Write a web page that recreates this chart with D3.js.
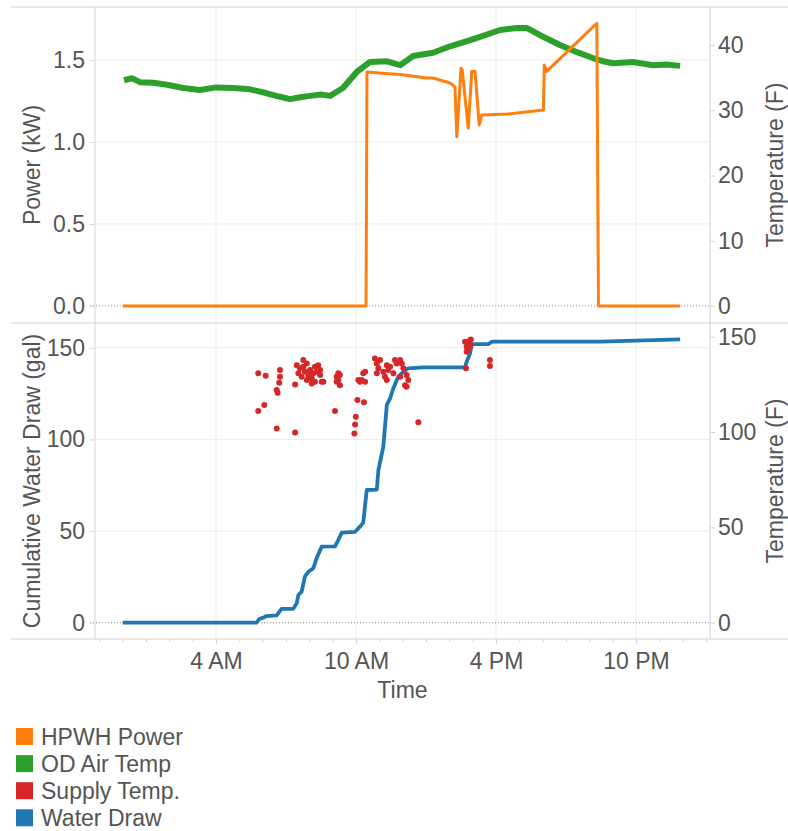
<!DOCTYPE html>
<html>
<head>
<meta charset="utf-8">
<script src="https://cdn.jsdelivr.net/npm/d3@7"></script>
<style>
    body { margin: 0; background: #fff; }
    text { font-family: "Liberation Sans", Arial, sans-serif; fill: #555; }
</style>
</head>
<body>
<script>
// time of day in hours, then value

// HPWH power (kW)
const hpwhPower = [
    [0, 0], [10.43, 0], [10.47, 1.427], [11.0, 1.42], [12.0, 1.41], [13.0, 1.39],
    [13.3, 1.39], [14.03, 1.36], [14.24, 1.335], [14.32, 1.032], [14.5, 1.45],
    [14.55, 1.44], [14.81, 1.085], [14.96, 1.43], [15.1, 1.43], [15.28, 1.104],
    [15.39, 1.165], [16.5, 1.17], [18.03, 1.195], [18.07, 1.47], [18.17, 1.43],
    [20.32, 1.724], [20.39, 0], [23.89, 0]
];

// outdoor air temperature (F)
const odAirTemp = [
    [0.06, 34.6], [0.4, 34.9], [0.74, 34.3], [1.3, 34.2], [1.9, 33.9], [2.6, 33.4],
    [3.31, 33.1], [4.0, 33.5], [4.73, 33.4], [5.46, 33.2], [6.18, 32.6], [6.7, 32.1],
    [7.17, 31.7], [7.6, 32.0], [8.03, 32.2], [8.5, 32.4], [8.89, 32.2], [9.44, 33.4],
    [10.04, 35.9], [10.6, 37.4], [11.33, 37.5], [11.89, 36.9], [12.44, 38.3],
    [13.3, 38.8], [14.03, 39.8], [14.76, 40.6], [15.44, 41.4], [16.17, 42.3],
    [16.9, 42.6], [17.33, 42.6], [17.89, 41.5], [18.74, 40.0], [19.47, 38.9],
    [20.15, 38.0], [20.6, 37.5], [21.01, 37.2], [21.87, 37.4], [22.73, 36.9],
    [23.3, 37.0], [23.89, 36.8]
];

// supply water temperature (F)
const supplyTemp = [
    [5.81, 130.8], [6.13, 129.5], [5.81, 111.0], [6.07, 114.2], [6.6, 101.9],
    [6.6, 122.0], [6.64, 120.6], [6.71, 125.9], [6.74, 129.0], [6.74, 132.5],
    [7.39, 99.8], [7.39, 125.0],
    [7.46, 135.1], [7.6, 133.4], [7.74, 137.8], [7.74, 134.2], [7.81, 131.6],
    [7.89, 136.0], [7.96, 129.9], [8.03, 132.5], [8.1, 128.2], [8.17, 130.8],
    [8.24, 134.2], [8.32, 131.6], [8.38, 135.1], [8.46, 129.9], [8.53, 126.4],
    [8.6, 126.4], [7.67, 129.0], [7.89, 127.3], [8.24, 126.4], [8.1, 125.5],
    [8.46, 132.5], [7.53, 130.8],
    [9.1, 111.0], [9.24, 130.8], [9.17, 129.0], [9.24, 127.3], [9.31, 124.6],
    [9.31, 129.9], [9.17, 126.4],
    [9.93, 99.3], [9.96, 104.0], [9.99, 108.0], [10.06, 116.8], [10.34, 115.6],
    [10.1, 127.3], [10.17, 126.4], [10.31, 130.8], [10.39, 131.6], [10.39, 126.4],
    [10.24, 127.3],
    [10.81, 138.6], [10.89, 136.0], [10.96, 133.4], [10.89, 130.8], [11.03, 137.8],
    [11.17, 131.6], [11.24, 129.0], [11.32, 127.3], [11.32, 135.1], [11.38, 132.5],
    [11.46, 134.2], [11.6, 130.8], [11.67, 137.8], [11.74, 136.0], [11.89, 137.8],
    [11.96, 136.0], [12.03, 133.4], [11.89, 129.0], [12.17, 129.9], [12.24, 127.3],
    [12.1, 124.6], [12.17, 123.8],
    [12.67, 105.1],
    [14.67, 147.3], [14.74, 144.7], [14.81, 146.5], [14.89, 148.2], [14.74, 142.1],
    [14.81, 143.0], [14.92, 148.6], [14.89, 145.6], [14.71, 133.4],
    [15.74, 137.8], [15.74, 134.6]
];

// cumulative water draw (gal)
const waterDraw = [
    [0, 0], [5.74, 0], [5.85, 2.0], [6.0, 2.6], [6.17, 3.6], [6.6, 4.0], [6.81, 7.5],
    [7.31, 7.6], [7.46, 10.6], [7.53, 15.1], [7.67, 16.9], [7.81, 25.1], [7.96, 27.8],
    [8.17, 29.7], [8.31, 35.1], [8.53, 41.5], [9.1, 41.6], [9.24, 45.1], [9.39, 49.1],
    [9.96, 49.6], [10.17, 52.4], [10.31, 54.6], [10.46, 72.4], [10.89, 72.6],
    [10.96, 83.3], [11.17, 96], [11.32, 118.8], [11.46, 122.4], [11.6, 127.9],
    [11.81, 134.2], [12.03, 136.9], [12.24, 138.8], [12.9, 139.3], [14.67, 139.3],
    [14.74, 142.4], [14.89, 147], [14.96, 151.5], [15.03, 152], [15.67, 152],
    [15.82, 153.3], [20.46, 153.3], [23.89, 154.6]
];

// ticks
const timeTicks = [4, 10, 16, 22];
const timeLabels = ['4 AM', '10 AM', '4 PM', '10 PM'];
const powerTicks = [0, 0.5, 1.0, 1.5];
const airTempTicks = [0, 10, 20, 30, 40];
const drawTicks = [0, 50, 100, 150];
const supplyTempTicks = [0, 50, 100, 150];

// legend
const legendNames = ['HPWH Power', 'OD Air Temp', 'Supply Temp.', 'Water Draw'];
const legendColors = ['#ff7f0e', '#2ca02c', '#d62728', '#1f77b4'];

const width = 788;
const height = 831;

const plotLeft = 95;
const plotRight = 710;
const topPanel = { y0: 7, y1: 323 };
const bottomPanel = { y0: 323, y1: 639 };
const lineColor = '#d4d4d4';
const gridColor = '#ececec';
const tickFont = 23;
const titleFont = 23;

const svg = d3.select('body')
    .append('svg')
    .attr('width', width)
    .attr('height', height);

// scales
const x = d3.scaleLinear()
    .domain([-1.186, 25.17])
    .range([plotLeft, plotRight]);

const yPower = d3.scaleLinear()
    .domain([-0.1037, 1.823])
    .range([topPanel.y1, topPanel.y0]);

const yAir = d3.scaleLinear()
    .domain([-2.6, 45.82])
    .range([topPanel.y1, topPanel.y0]);

const yDraw = d3.scaleLinear()
    .domain([-8.9, 163.5])
    .range([bottomPanel.y1, bottomPanel.y0]);

const ySupply = d3.scaleLinear()
    .domain([-8.55, 157.2])
    .range([bottomPanel.y1, bottomPanel.y0]);

// grid
const grid = svg.append('g');

grid.selectAll('.vgrid')
    .data(timeTicks)
    .enter()
    .append('line')
    .attr('x1', d => x(d))
    .attr('x2', d => x(d))
    .attr('y1', topPanel.y0)
    .attr('y2', bottomPanel.y1)
    .attr('stroke', gridColor);

grid.selectAll('.pgrid')
    .data(powerTicks.filter(d => d > 0))
    .enter()
    .append('line')
    .attr('x1', plotLeft)
    .attr('x2', plotRight)
    .attr('y1', d => yPower(d))
    .attr('y2', d => yPower(d))
    .attr('stroke', gridColor);

grid.selectAll('.dgrid')
    .data(drawTicks.filter(d => d > 0))
    .enter()
    .append('line')
    .attr('x1', plotLeft)
    .attr('x2', plotRight)
    .attr('y1', d => yDraw(d))
    .attr('y2', d => yDraw(d))
    .attr('stroke', gridColor);

// zero lines, dotted
grid.selectAll('.zero')
    .data([yPower(0), yDraw(0)])
    .enter()
    .append('line')
    .attr('x1', plotLeft - 5)
    .attr('x2', plotRight)
    .attr('y1', d => d)
    .attr('y2', d => d)
    .attr('stroke', '#8c8c8c')
    .attr('stroke-dasharray', '1,2');

// panel borders
svg.selectAll('.hborder')
    .data([topPanel.y0, topPanel.y1, bottomPanel.y1])
    .enter()
    .append('line')
    .attr('x1', 11)
    .attr('x2', width)
    .attr('y1', d => d)
    .attr('y2', d => d)
    .attr('stroke', lineColor);

svg.selectAll('.vborder')
    .data([plotLeft, plotRight])
    .enter()
    .append('line')
    .attr('x1', d => d)
    .attr('x2', d => d)
    .attr('y1', topPanel.y0)
    .attr('y2', bottomPanel.y1)
    .attr('stroke', lineColor);

// line generators
const powerLine = d3.line()
    .x(d => x(d[0]))
    .y(d => yPower(d[1]));

const airLine = d3.line()
    .x(d => x(d[0]))
    .y(d => yAir(d[1]));

const drawLine = d3.line()
    .x(d => x(d[0]))
    .y(d => yDraw(d[1]));

svg.append('path')
    .attr('d', airLine(odAirTemp))
    .attr('fill', 'none')
    .attr('stroke', legendColors[1])
    .attr('stroke-width', 6)
    .attr('stroke-linejoin', 'round');

svg.append('path')
    .attr('d', powerLine(hpwhPower))
    .attr('fill', 'none')
    .attr('stroke', legendColors[0])
    .attr('stroke-width', 3)
    .attr('stroke-linejoin', 'round');

svg.append('path')
    .attr('d', drawLine(waterDraw))
    .attr('fill', 'none')
    .attr('stroke', legendColors[3])
    .attr('stroke-width', 3.8)
    .attr('stroke-linejoin', 'round');

svg.selectAll('.supply')
    .data(supplyTemp)
    .enter()
    .append('circle')
    .attr('cx', d => x(d[0]))
    .attr('cy', d => ySupply(d[1]))
    .attr('r', 3)
    .attr('fill', legendColors[2]);

// axes
function styleAxis(g) {
    g.select('.domain').remove();
    g.selectAll('line').attr('stroke', lineColor);
    g.selectAll('text')
        .attr('fill', '#555')
        .style('font-size', tickFont + 'px')
        .style('font-family', '"Liberation Sans", Arial, sans-serif');
}

svg.append('g')
    .attr('transform', 'translate(' + plotLeft + ', 0)')
    .call(d3.axisLeft(yPower).tickValues(powerTicks).tickFormat(d3.format('.1f')).tickSize(5).tickPadding(5))
    .call(styleAxis);

svg.append('g')
    .attr('transform', 'translate(' + plotRight + ', 0)')
    .call(d3.axisRight(yAir).tickValues(airTempTicks).tickSize(5).tickPadding(3))
    .call(styleAxis);

svg.append('g')
    .attr('transform', 'translate(' + plotLeft + ', 0)')
    .call(d3.axisLeft(yDraw).tickValues(drawTicks).tickSize(5).tickPadding(5))
    .call(styleAxis);

svg.append('g')
    .attr('transform', 'translate(' + plotRight + ', 0)')
    .call(d3.axisRight(ySupply).tickValues(supplyTempTicks).tickSize(5).tickPadding(3))
    .call(styleAxis);

// hourly minor ticks on the time axis
svg.append('g')
    .attr('transform', 'translate(0, ' + bottomPanel.y1 + ')')
    .call(d3.axisBottom(x).tickValues(d3.range(-1, 26)).tickSize(3).tickFormat(''))
    .call(styleAxis);

svg.append('g')
    .attr('transform', 'translate(0, ' + bottomPanel.y1 + ')')
    .call(d3.axisBottom(x).tickValues(timeTicks).tickSize(5).tickPadding(9)
        .tickFormat((d, i) => timeLabels[i]))
    .call(styleAxis);

// axis titles
function axisTitle(label, cx, cy) {
    svg.append('text')
        .attr('transform', 'translate(' + cx + ', ' + cy + ') rotate(-90)')
        .attr('text-anchor', 'middle')
        .style('font-size', titleFont + 'px')
        .text(label);
}

axisTitle('Power (kW)', 40, (topPanel.y0 + topPanel.y1) / 2);
axisTitle('Cumulative Water Draw (gal)', 40, (bottomPanel.y0 + bottomPanel.y1) / 2);
axisTitle('Temperature (F)', 783, (topPanel.y0 + topPanel.y1) / 2);
axisTitle('Temperature (F)', 783, (bottomPanel.y0 + bottomPanel.y1) / 2);

svg.append('text')
    .attr('x', (plotLeft + plotRight) / 2)
    .attr('y', 698)
    .attr('text-anchor', 'middle')
    .style('font-size', titleFont + 'px')
    .text('Time');

// legend
const legend = svg.append('g')
    .attr('transform', 'translate(16, 728)');

const item = legend.selectAll('g')
    .data(legendNames)
    .enter()
    .append('g')
    .attr('transform', (d, i) => 'translate(0, ' + (i * 27.1) + ')');

item.append('rect')
    .attr('width', 17)
    .attr('height', 17)
    .attr('fill', (d, i) => legendColors[i]);

item.append('text')
    .attr('x', 25)
    .attr('y', 16.5)
    .style('font-size', titleFont + 'px')
    .text(d => d);
</script>
</body>
</html>
